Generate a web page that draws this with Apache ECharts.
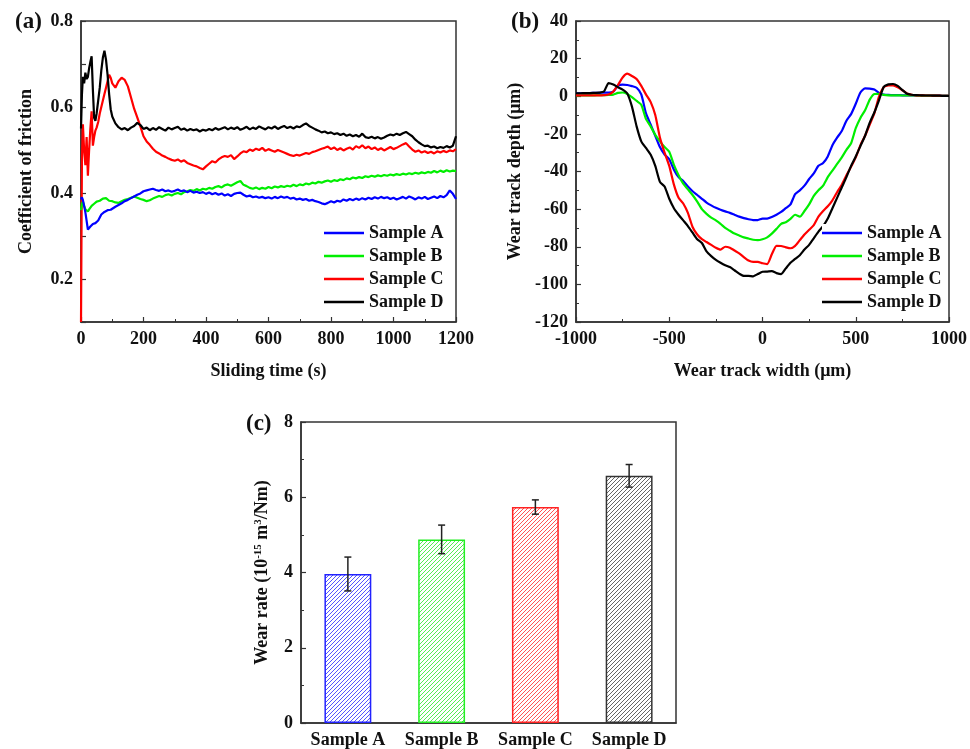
<!DOCTYPE html>
<html>
<head>
<meta charset="utf-8">
<script src="https://cdn.jsdelivr.net/npm/echarts@6/dist/echarts.min.js"></script>
<style>
  html, body { margin: 0; padding: 0; background: #fff; }
  #main { width: 970px; height: 749px; }
</style>
</head>
<body>
<div id="main"></div>
<script>
// (a) coefficient of friction vs sliding time
var cofTime = [0, 3, 6, 10, 14, 18, 22, 26, 30, 34, 38, 42, 46, 50, 55, 60, 65, 70, 75, 80, 85, 90, 95, 100,
  110, 120, 130, 140, 150, 160, 170, 180, 190, 200, 210, 220, 230, 240, 250, 260, 270, 280, 290, 300,
  310, 320, 330, 340, 350, 360, 370, 380, 390, 400, 410, 420, 430, 440, 450, 460, 470, 480, 490, 500,
  510, 520, 530, 540, 550, 560, 570, 580, 590, 600, 610, 620, 630, 640, 650, 660, 670, 680, 690, 700,
  710, 720, 730, 740, 750, 760, 770, 780, 790, 800, 810, 820, 830, 840, 850, 860, 870, 880, 890, 900,
  910, 920, 930, 940, 950, 960, 970, 980, 990, 1000, 1010, 1020, 1030, 1040, 1050, 1060, 1070, 1080, 1090, 1100,
  1110, 1120, 1130, 1140, 1150, 1160, 1170, 1180, 1190, 1200];

var cofA = [0.385, 0.39, 0.384, 0.37, 0.355, 0.335, 0.315, 0.318, 0.322, 0.325, 0.328, 0.326, 0.33, 0.333, 0.336, 0.34, 0.35, 0.353, 0.356, 0.358, 0.36, 0.362, 0.361, 0.365,
  0.368, 0.372, 0.376, 0.381, 0.384, 0.388, 0.392, 0.396, 0.399, 0.404, 0.406, 0.408, 0.41, 0.407, 0.405, 0.408, 0.404, 0.406, 0.403, 0.405,
  0.408, 0.404, 0.406, 0.402, 0.405, 0.401, 0.403, 0.4, 0.402, 0.398, 0.401, 0.397, 0.4, 0.396, 0.399, 0.394, 0.397, 0.393, 0.398, 0.4,
  0.401, 0.396, 0.392, 0.394, 0.39, 0.392, 0.389, 0.391, 0.388, 0.39, 0.387, 0.391, 0.388, 0.392, 0.389, 0.391, 0.387, 0.389, 0.385, 0.387,
  0.384, 0.386, 0.382, 0.384, 0.381, 0.379, 0.376, 0.374, 0.377, 0.381, 0.378, 0.382, 0.38, 0.385, 0.382, 0.386, 0.383, 0.387, 0.384, 0.388,
  0.385, 0.389, 0.386, 0.39, 0.387, 0.391, 0.388, 0.39, 0.386, 0.389, 0.385, 0.388, 0.391, 0.387, 0.392, 0.389, 0.385, 0.39, 0.387, 0.391,
  0.386, 0.389, 0.392, 0.388, 0.393, 0.39, 0.395, 0.406, 0.398, 0.386];

var cofB = [0.36, 0.375, 0.38, 0.37, 0.362, 0.358, 0.357, 0.362, 0.366, 0.37, 0.372, 0.375, 0.378, 0.38, 0.383, 0.382, 0.385, 0.387, 0.386, 0.388, 0.384, 0.382, 0.38, 0.381,
  0.378, 0.377, 0.381, 0.384, 0.386, 0.389, 0.392, 0.389, 0.386, 0.384, 0.381, 0.383, 0.387, 0.39, 0.393, 0.391, 0.395, 0.397, 0.394, 0.398,
  0.4, 0.397, 0.402, 0.404, 0.407, 0.405, 0.409, 0.406, 0.41, 0.408, 0.412, 0.41, 0.414, 0.416, 0.413, 0.418, 0.42, 0.417, 0.421, 0.425,
  0.428, 0.419, 0.416, 0.412, 0.41, 0.413, 0.409, 0.412, 0.41, 0.414, 0.411, 0.415, 0.413, 0.416, 0.414, 0.417, 0.415, 0.419, 0.416, 0.42,
  0.418, 0.422, 0.42, 0.424, 0.422, 0.426, 0.424, 0.427, 0.429, 0.426, 0.43, 0.428, 0.432, 0.43, 0.434, 0.432, 0.436, 0.434, 0.437, 0.435,
  0.439, 0.437, 0.44, 0.438, 0.441, 0.439, 0.442, 0.44, 0.443, 0.441, 0.444, 0.442, 0.445, 0.443, 0.446, 0.444, 0.447, 0.445, 0.448, 0.446,
  0.449, 0.447, 0.451, 0.448, 0.452, 0.449, 0.453, 0.45, 0.452, 0.451];

var cofC = [0.1, 0.48, 0.56, 0.5, 0.465, 0.53, 0.44, 0.5, 0.55, 0.59, 0.51, 0.53, 0.545, 0.552, 0.565, 0.585, 0.6, 0.615, 0.63, 0.645, 0.66, 0.675, 0.668, 0.655,
  0.645, 0.66, 0.668, 0.663, 0.648, 0.622, 0.596, 0.576, 0.555, 0.532, 0.52, 0.512, 0.503, 0.496, 0.492, 0.487, 0.484, 0.48, 0.477, 0.475,
  0.478, 0.473, 0.476, 0.47, 0.467, 0.464, 0.462, 0.458, 0.455, 0.462, 0.468, 0.474, 0.471, 0.478, 0.483, 0.486, 0.484, 0.488, 0.479, 0.485,
  0.492, 0.497, 0.495, 0.501, 0.498, 0.503, 0.5, 0.505, 0.498, 0.502, 0.499, 0.496, 0.5, 0.497, 0.494, 0.491, 0.488, 0.486, 0.489, 0.487,
  0.49, 0.493, 0.491, 0.495, 0.497, 0.5, 0.503, 0.505, 0.508, 0.502, 0.506, 0.5, 0.504, 0.499, 0.503, 0.506, 0.501, 0.509, 0.505, 0.511,
  0.504, 0.508, 0.502, 0.506, 0.5, 0.504, 0.499, 0.503, 0.507, 0.502, 0.505, 0.509, 0.513, 0.516, 0.508, 0.501, 0.496, 0.499, 0.494, 0.497,
  0.493, 0.496, 0.492, 0.497, 0.494, 0.498, 0.495, 0.499, 0.497, 0.502];

var cofD = [0.55, 0.63, 0.67, 0.655, 0.68, 0.665, 0.67, 0.69, 0.705, 0.718, 0.64, 0.575, 0.568, 0.585, 0.615, 0.645, 0.685, 0.715, 0.731, 0.71, 0.675, 0.63, 0.595, 0.578,
  0.562, 0.553, 0.548, 0.551, 0.546, 0.552, 0.556, 0.563, 0.558, 0.549, 0.552, 0.546, 0.551, 0.547, 0.553, 0.549, 0.545, 0.552, 0.548, 0.551,
  0.554, 0.547, 0.55, 0.545, 0.549, 0.546, 0.548, 0.543, 0.547, 0.545, 0.549, 0.546, 0.551, 0.547, 0.55, 0.553, 0.548, 0.552, 0.549, 0.553,
  0.547, 0.55, 0.554, 0.548, 0.552, 0.549, 0.555, 0.551, 0.548, 0.553, 0.55, 0.555, 0.549, 0.553, 0.556, 0.551, 0.554, 0.55, 0.555, 0.553,
  0.558, 0.562, 0.556, 0.552, 0.548, 0.545, 0.541, 0.543, 0.539, 0.541, 0.537, 0.539, 0.535, 0.538, 0.533, 0.536, 0.532, 0.535, 0.531, 0.538,
  0.53, 0.528, 0.531, 0.527, 0.53, 0.526, 0.529, 0.533, 0.536, 0.534, 0.538, 0.535, 0.539, 0.542, 0.537, 0.532, 0.524, 0.518, 0.513, 0.509,
  0.51, 0.506, 0.508, 0.504, 0.507, 0.505, 0.509, 0.506, 0.51, 0.532];

// (b) wear track profiles
var trackWidth = [-1000, -975, -950, -925, -900, -875, -850, -825, -800, -775, -750, -725, -700, -675, -650, -625,
  -600, -575, -550, -525, -500, -475, -450, -425, -400, -375, -350, -325, -300, -275, -250, -225,
  -200, -175, -150, -125, -100, -75, -50, -25, 0, 25, 50, 75, 100, 125, 150, 175,
  200, 225, 250, 275, 300, 325, 350, 375, 400, 425, 450, 475, 500, 525, 550, 575,
  600, 625, 650, 675, 700, 725, 750, 775, 800, 825, 850, 875, 900, 925, 950, 975, 1000];

var depthA = [1.6, 1.6, 1.7, 1.7, 1.8, 1.8, 1.9, 1.9, 2.4, 5.6, 6.2, 6.0, 5.4, 4.5, 1.0, -9,
  -15, -21, -27, -31, -33.5, -39, -43, -45, -48, -50.5, -52.5, -54.5, -56.5, -58, -59.3, -60.3,
  -61.2, -62, -63, -64, -64.8, -65.4, -65.8, -65.8, -65, -65, -64.2, -63, -61.5, -59.5, -57.5, -52,
  -50, -47.5, -44, -41, -37, -35.5, -32, -26, -22, -18.5, -13, -9.5, -4, 2, 4.2, 4.1,
  3.6, 1.8, 0.9, 0.7, 0.6, 0.6, 0.5, 0.5, 0.5, 0.4, 0.4, 0.4, 0.3, 0.3, 0.3, 0.2, 0.2];

var depthB = [0.4, 0.4, 0.5, 0.5, 0.5, 0.6, 0.6, 0.7, 0.9, 1.8, 2.0, 1.2, -0.5, -2.5, -4.5, -12,
  -16, -20.5, -24, -27, -29.5, -36.5, -42, -46.5, -49.5, -52.5, -56, -60, -62.5, -64.5, -66, -67.8,
  -70, -71.5, -73, -74, -75, -75.6, -76.3, -76.5, -76, -75, -73, -70.5, -67.8, -67, -65.2, -63,
  -64, -61, -57.5, -53, -50, -47.5, -43, -39.5, -36, -32.5, -28.5, -25, -17, -11.5, -7.5, -1.8,
  1.2, 1.3, 0.7, 0.5, 0.5, 0.5, 0.4, 0.4, 0.4, 0.4, 0.3, 0.3, 0.3, 0.3, 0.2, 0.2, 0.2];

var depthC = [0.5, 0.5, 0.5, 0.5, 0.5, 0.5, 0.6, 0.9, 2.5, 6, 10, 12, 10.8, 9.2, 5.5, 1,
  -3, -10, -22, -30, -37, -47, -54, -57, -62, -69.5, -73.5, -76, -77.5, -79, -80.5, -81.5,
  -80, -80.5, -82, -83.5, -85.5, -87.3, -88, -88, -88.8, -89.2, -84, -79.5, -79.6, -80.3, -80.8, -79.5,
  -76.5, -73.5, -71, -68.5, -64, -61, -58.5, -55.3, -51, -47, -42, -37.5, -32.5, -26, -21, -15,
  -9, 0, 4.8, 5.8, 5.8, 4.8, 3.2, 1.5, 0.8, 0.5, 0.5, 0.4, 0.4, 0.3, 0.3, 0.2, 0.2];

var depthD = [1.6, 1.6, 1.7, 1.7, 1.8, 1.9, 2.5, 7, 6.2, 4.8, 3.5, 1.5, -5.5, -16, -24, -27.5,
  -31, -37, -45.5, -48, -54.5, -59.5, -63, -66, -69, -72.5, -76, -78, -82.5, -85, -87, -88.5,
  -89.8, -90.8, -92.5, -94.3, -95.5, -95.5, -95.7, -94.5, -93.3, -93.2, -93, -94, -94.5, -91.5, -88.5, -86.5,
  -84.5, -81.5, -79, -75.5, -72, -69, -65, -59.5, -54, -48.5, -43, -37, -32, -26.5, -21, -14,
  -8.5, -2, 5, 6.3, 6.5, 5.5, 3.3, 1.3, 0.8, 0.6, 0.5, 0.4, 0.4, 0.3, 0.3, 0.2, 0.2];

// (c) wear rate
var sampleNames = ['Sample A', 'Sample B', 'Sample C', 'Sample D'];
var wearRate = [3.96, 4.88, 5.74, 6.57];
var wearErr = [0.45, 0.38, 0.19, 0.3];

var lineColors = ['#0000ff', '#00ee00', '#ff0000', '#000000'];
var barColors = ['#2222ff', '#22ee22', '#ff2222', '#333333'];
var hatchColors = ['#5555ff', '#55ee55', '#ff5555', '#666666'];

var FONT = "'Liberation Serif', 'Times New Roman', serif";
var frameColor = '#333';

function hatch(color) {
  var c = document.createElement('canvas');
  c.width = 4; c.height = 4;
  var ctx = c.getContext('2d');
  ctx.fillStyle = '#fff';
  ctx.fillRect(0, 0, 4, 4);
  ctx.strokeStyle = color;
  ctx.lineWidth = 1;
  ctx.beginPath();
  ctx.moveTo(0, 4); ctx.lineTo(4, 0);
  ctx.moveTo(-1, 1); ctx.lineTo(1, -1);
  ctx.moveTo(3, 5); ctx.lineTo(5, 3);
  ctx.stroke();
  return c;
}

function pairs(xs, ys) {
  return xs.map(function (x, i) { return [x, ys[i]]; });
}

// plain numbers, no thousands separator
function plain(v) { return String(v); }

var tickLabel = { color: '#111', fontFamily: FONT, fontWeight: 'bold', fontSize: 18 };
var nameStyle = { color: '#111', fontFamily: FONT, fontWeight: 'bold', fontSize: 18 };

function valueAxis(idx, extra) {
  var ax = {
    type: 'value',
    gridIndex: idx,
    axisLine: { show: true, onZero: false, lineStyle: { color: frameColor, width: 1.5 } },
    axisTick: { show: true, inside: true, length: 5, lineStyle: { color: frameColor, width: 1.2 } },
    minorTick: { show: false },
    splitLine: { show: false },
    axisLabel: Object.assign({ margin: 8, formatter: plain }, tickLabel),
    nameLocation: 'middle',
    nameTextStyle: nameStyle
  };
  return Object.assign(ax, extra);
}

var myChart = echarts.init(document.getElementById('main'));

var series = [];
var cofData = [cofA, cofB, cofC, cofD];
var depthData = [depthA, depthB, depthC, depthD];
sampleNames.forEach(function (name, i) {
  series.push({
    name: name, type: 'line', xAxisIndex: 0, yAxisIndex: 0,
    data: pairs(cofTime, cofData[i]), symbol: 'none',
    lineStyle: { color: lineColors[i], width: 2.2 }, itemStyle: { color: lineColors[i] },
    z: i === 3 ? 5 : 4 - i
  });
});
sampleNames.forEach(function (name, i) {
  series.push({
    name: name, type: 'line', xAxisIndex: 1, yAxisIndex: 1,
    data: pairs(trackWidth, depthData[i]), symbol: 'none', smooth: 0.2,
    lineStyle: { color: lineColors[i], width: 2.2 }, itemStyle: { color: lineColors[i] }
  });
});

series.push({
  name: 'wear', type: 'bar', xAxisIndex: 2, yAxisIndex: 2, barWidth: '50%',
  data: wearRate.map(function (v, i) {
    return {
      value: v,
      itemStyle: {
        color: { image: hatch(hatchColors[i]), repeat: 'repeat' },
        borderColor: barColors[i], borderWidth: 1.5
      }
    };
  })
});

series.push({
  name: 'err', type: 'custom', xAxisIndex: 2, yAxisIndex: 2, z: 10,
  data: wearRate.map(function (v, i) { return [i, v - wearErr[i], v + wearErr[i]]; }),
  renderItem: function (params, api) {
    var lo = api.coord([api.value(0), api.value(1)]);
    var hi = api.coord([api.value(0), api.value(2)]);
    var cap = 3.5;
    var st = { stroke: '#222', lineWidth: 1.5 };
    return {
      type: 'group',
      children: [
        { type: 'line', shape: { x1: lo[0], y1: lo[1], x2: hi[0], y2: hi[1] }, style: st },
        { type: 'line', shape: { x1: lo[0] - cap, y1: lo[1], x2: lo[0] + cap, y2: lo[1] }, style: st },
        { type: 'line', shape: { x1: hi[0] - cap, y1: hi[1], x2: hi[0] + cap, y2: hi[1] }, style: st }
      ]
    };
  }
});

var legendBase = {
  orient: 'vertical',
  top: 224,
  icon: 'rect',
  itemWidth: 40,
  itemHeight: 2.5,
  itemGap: 5,
  padding: 0,
  data: sampleNames,
  selectedMode: false,
  textStyle: { color: '#111', fontFamily: FONT, fontWeight: 'bold', fontSize: 18, lineHeight: 18 }
};

var option = {
  animation: false,
  backgroundColor: '#fff',
  title: [
    { text: '(a)', left: 10, top: 6, textStyle: { fontFamily: FONT, fontWeight: 'bold', fontSize: 23, color: '#111' } },
    { text: '(b)', left: 506, top: 6, textStyle: { fontFamily: FONT, fontWeight: 'bold', fontSize: 23, color: '#111' } },
    { text: '(c)', left: 241, top: 408, textStyle: { fontFamily: FONT, fontWeight: 'bold', fontSize: 23, color: '#111' } }
  ],
  legend: [
    Object.assign({}, legendBase, { left: 324 }),
    Object.assign({}, legendBase, { left: 822, backgroundColor: '#fff' })
  ],
  grid: [
    { left: 81, top: 21, width: 375, height: 301, show: true, borderColor: frameColor, borderWidth: 1.5 },
    { left: 576, top: 21, width: 374, height: 301, show: true, borderColor: frameColor, borderWidth: 1.5 },
    { left: 301, top: 422, width: 375, height: 302, show: true, borderColor: frameColor, borderWidth: 1.5 }
  ],
  xAxis: [
    valueAxis(0, {
      min: 0, max: 1200, interval: 200,
      minorTick: { show: true, splitNumber: 2, length: 3, lineStyle: { color: frameColor } },
      name: 'Sliding time (s)', nameGap: 40
    }),
    valueAxis(1, {
      min: -1000, max: 1000, interval: 500,
      minorTick: { show: true, splitNumber: 2, length: 3, lineStyle: { color: frameColor } },
      name: 'Wear track width (μm)', nameGap: 40
    }),
    {
      type: 'category', gridIndex: 2, data: sampleNames,
      axisLine: { show: true, lineStyle: { color: frameColor, width: 1.5 } },
      axisTick: { show: false },
      axisLabel: Object.assign({ margin: 8, interval: 0 }, tickLabel)
    }
  ],
  yAxis: [
    valueAxis(0, {
      min: 0.1, max: 0.8, interval: 0.1,
      axisLabel: Object.assign({
        margin: 8,
        formatter: function (v) {
          var k = Math.round(v * 10);
          return k % 2 === 0 ? (k / 10).toFixed(1) : '';
        }
      }, tickLabel),
      name: 'Coefficient of friction', nameGap: 46
    }),
    valueAxis(1, {
      min: -120, max: 40, interval: 20,
      minorTick: { show: true, splitNumber: 2, length: 3, lineStyle: { color: frameColor } },
      name: 'Wear track depth (μm)', nameGap: 52
    }),
    valueAxis(2, {
      min: 0, max: 8, interval: 2,
      minorTick: { show: true, splitNumber: 2, length: 3, lineStyle: { color: frameColor } },
      name: 'Wear rate (10{sup|-15} m{sup|3}/Nm)', nameGap: 30,
      nameTextStyle: Object.assign({}, nameStyle, {
        rich: {
          sup: { fontFamily: FONT, fontWeight: 'bold', fontSize: 11, color: '#111', verticalAlign: 'top', lineHeight: 18 }
        }
      })
    })
  ],
  series: series
};

myChart.setOption(option);
</script>
</body>
</html>
